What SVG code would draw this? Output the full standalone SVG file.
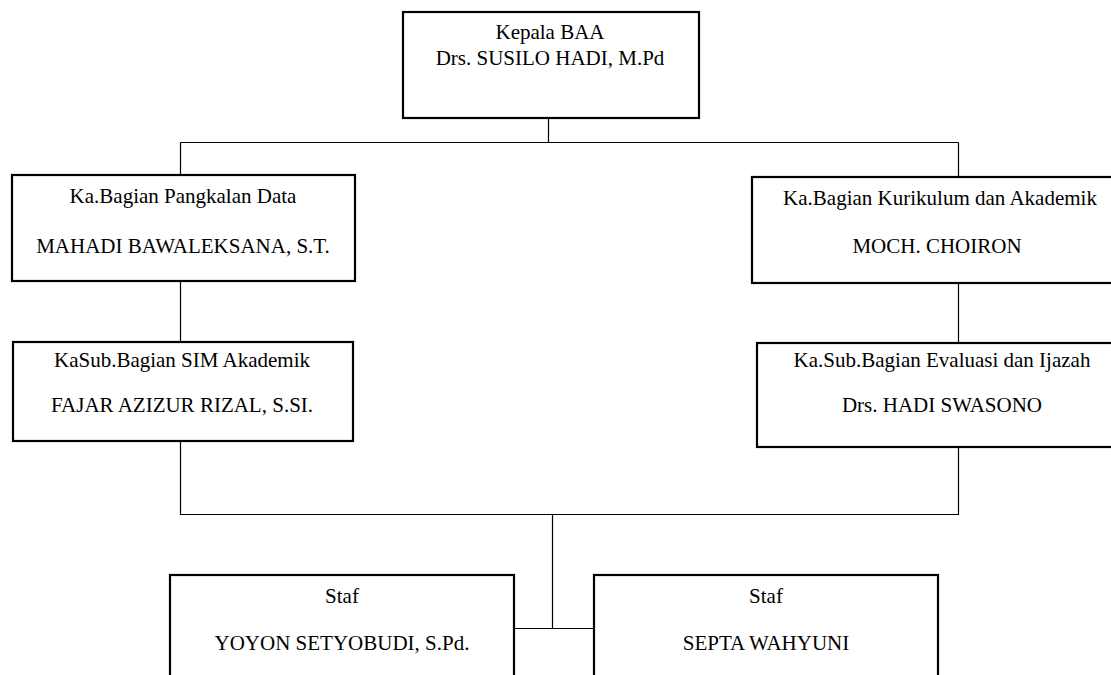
<svg xmlns="http://www.w3.org/2000/svg" width="1111" height="675" viewBox="0 0 1111 675">
<style>
.box{fill:#fff;stroke:#000;stroke-width:2.2}
.t{font-family:'Liberation Serif','Times New Roman',Times,'DejaVu Serif',serif;font-size:21px;fill:#000;text-anchor:middle}
.c{fill:none;stroke:#000;stroke-width:1.2}
</style>
<rect width="1111" height="675" fill="#fff"/>
<g id="connectors">
<path class="c" d="M548.5 118V142.5M180.5 142.5H958.5M180.5 142.5V175M958.5 142.5V177"/>
<path class="c" d="M180.5 281V342M958.5 283V343"/>
<path class="c" d="M180.5 441V514.5H958.5V447M552.5 514.5V628.5M514 628.5H594"/>
</g>
<g id="n-kepala">
<rect class="box" x="403" y="12" width="296" height="106"/>
<text class="t" font-family="Liberation Serif, serif" x="550" y="39">Kepala BAA</text>
<text class="t" font-family="Liberation Serif, serif" x="550" y="65">Drs. SUSILO HADI, M.Pd</text>
</g>
<g id="n-pangkalan">
<rect class="box" x="12" y="175" width="343" height="106"/>
<text class="t" x="183" y="203">Ka.Bagian Pangkalan Data</text>
<text class="t" x="183" y="253">MAHADI BAWALEKSANA, S.T.</text>
</g>
<g id="n-kurikulum">
<rect class="box" x="752" y="177" width="365" height="106"/>
<text class="t" x="940" y="205">Ka.Bagian Kurikulum dan Akademik</text>
<text class="t" x="937" y="253">MOCH. CHOIRON</text>
</g>
<g id="n-sim">
<rect class="box" x="13" y="342" width="340" height="99"/>
<text class="t" x="182" y="367">KaSub.Bagian SIM Akademik</text>
<text class="t" x="182" y="412">FAJAR AZIZUR RIZAL, S.SI.</text>
</g>
<g id="n-evaluasi">
<rect class="box" x="757" y="343" width="360" height="104"/>
<text class="t" x="942" y="367">Ka.Sub.Bagian Evaluasi dan Ijazah</text>
<text class="t" x="942" y="412">Drs. HADI SWASONO</text>
</g>
<g id="n-staf1">
<rect class="box" x="170" y="575" width="344" height="110"/>
<text class="t" x="342" y="603">Staf</text>
<text class="t" x="342" y="650">YOYON SETYOBUDI, S.Pd.</text>
</g>
<g id="n-staf2">
<rect class="box" x="594" y="575" width="344" height="110"/>
<text class="t" x="766" y="603">Staf</text>
<text class="t" x="766" y="650">SEPTA WAHYUNI</text>
</g>
</svg>
